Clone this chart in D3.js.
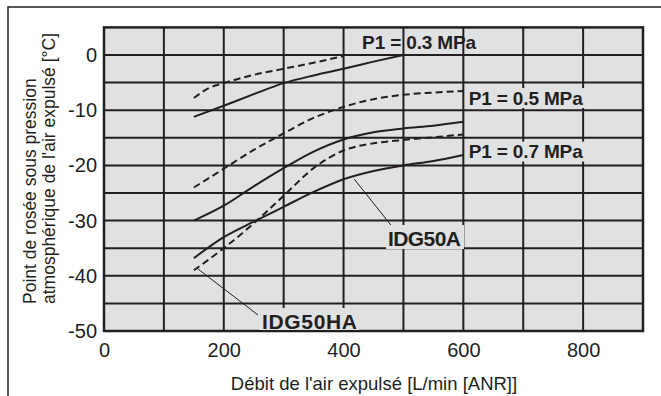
<!DOCTYPE html>
<html>
<head>
<meta charset="utf-8">
<script src="https://cdn.jsdelivr.net/npm/d3@7"></script>
<style>
  body { margin: 0; background: #fff; }
  text { font-family: "Liberation Sans", Arial, sans-serif; fill: #231f20; }
</style>
</head>
<body>
<script>
// chart values
var xTicks = [0, 200, 400, 600, 800];
var yTicks = [0, -10, -20, -30, -40, -50];

var flow = [150, 200, 250, 300, 350, 400, 450, 500, 550, 600];

var p03Flow = [150, 200, 250, 300, 350, 400, 450, 500];
var p03Solid = [-11.2, -9.2, -7.1, -5.1, -3.7, -2.5, -1.2, 0];
var p03DashFlow = [150, 175, 200, 250, 300, 350, 400];
var p03Dash = [-7.8, -6.0, -5.1, -3.6, -2.5, -1.4, -0.2];

var p05Dash = [-24, -20.6, -17.2, -14.2, -11.4, -9.4, -8.0, -7.2, -6.8, -6.5];
var p05Solid = [-30, -27.3, -23.8, -20.5, -17.5, -15.3, -14, -13.3, -12.8, -12.1];

var p07Dash = [-39, -35, -30.5, -25.5, -20.5, -17.3, -16, -15.4, -14.9, -14.4];
var p07Solid = [-36.8, -33, -30.2, -27.5, -24.8, -22.5, -21, -20, -19.2, -18.1];

var pressureLabels = [
  {text: "P1 = 0.3 MPa", x: 431, y: 2.4, box: false},
  {text: "P1 = 0.5 MPa", x: 609, y: -7.8, box: true},
  {text: "P1 = 0.7 MPa", x: 609, y: -17.5, box: true}
];

var w = 661;
var h = 396;
var ink = "#231f20";
var paper = "#e0e1e2";

var x = d3.scaleLinear().domain([0, 900]).range([104, 643]);
var y = d3.scaleLinear().domain([-50, 5]).range([331, 27.4]);

var svg = d3.select("body")
  .append("svg")
  .attr("width", w)
  .attr("height", h);

// outer frame
svg.append("rect")
  .attr("x", 8).attr("y", 7)
  .attr("width", 700).attr("height", 420)
  .attr("fill", "none")
  .attr("stroke", ink)
  .attr("stroke-width", 1.5);

// plot background
svg.append("rect")
  .attr("x", x(0)).attr("y", y(5))
  .attr("width", x(900) - x(0)).attr("height", y(-50) - y(5))
  .attr("fill", paper);

// grid
svg.append("g").selectAll("line")
  .data(d3.range(100, 900, 100))
  .enter().append("line")
  .attr("x1", function(d){ return x(d); })
  .attr("x2", function(d){ return x(d); })
  .attr("y1", y(5)).attr("y2", y(-50))
  .attr("stroke", ink).attr("stroke-width", 2);

svg.append("g").selectAll("line")
  .data(d3.range(-45, 5, 5))
  .enter().append("line")
  .attr("x1", x(0)).attr("x2", x(900))
  .attr("y1", function(d){ return y(d); })
  .attr("y2", function(d){ return y(d); })
  .attr("stroke", ink).attr("stroke-width", 2);

svg.append("rect")
  .attr("x", x(0)).attr("y", y(5))
  .attr("width", x(900) - x(0)).attr("height", y(-50) - y(5))
  .attr("fill", "none")
  .attr("stroke", ink).attr("stroke-width", 2.5);

// axes (labels only)
var plain = function(d){ return String(d); };
var xAxis = svg.append("g")
  .attr("transform", "translate(0," + y(-50) + ")")
  .call(d3.axisBottom(x).tickValues(xTicks).tickFormat(plain).tickSize(0).tickPadding(12));
var yAxis = svg.append("g")
  .attr("transform", "translate(" + x(0) + ",0)")
  .call(d3.axisLeft(y).tickValues(yTicks).tickFormat(plain).tickSize(0).tickPadding(7));
[xAxis, yAxis].forEach(function(a){
  a.select(".domain").remove();
  a.selectAll("text")
    .attr("font-size", 20)
    .attr("font-family", "Liberation Sans, Arial, sans-serif")
    .attr("fill", ink);
});

// curves
var line = d3.line()
  .x(function(d){ return x(d[0]); })
  .y(function(d){ return y(d[1]); })
  .curve(d3.curveMonotoneX);

var curves = [
  {xs: p03Flow, ys: p03Solid, dash: null},
  {xs: p03DashFlow, ys: p03Dash, dash: "7,4"},
  {xs: flow, ys: p05Dash, dash: "7,4"},
  {xs: flow, ys: p05Solid, dash: null},
  {xs: flow, ys: p07Dash, dash: "7,4"},
  {xs: flow, ys: p07Solid, dash: null}
];

svg.append("g").selectAll("path")
  .data(curves)
  .enter().append("path")
  .attr("d", function(c){ return line(d3.zip(c.xs, c.ys)); })
  .attr("fill", "none")
  .attr("stroke", ink)
  .attr("stroke-width", 2)
  .attr("stroke-dasharray", function(c){ return c.dash; });

// pressure labels, knocked out of the grid
var pl = svg.append("g").selectAll("g")
  .data(pressureLabels)
  .enter().append("g")
  .attr("transform", function(d){ return "translate(" + x(d.x) + "," + y(d.y) + ")"; });
pl.filter(function(d){ return d.box; }).append("rect")
  .attr("x", -1).attr("y", -10)
  .attr("width", 118).attr("height", 20)
  .attr("fill", paper);
pl.append("text")
  .attr("dy", "0.36em")
  .attr("font-size", 19)
  .attr("font-weight", "bold")
  .attr("textLength", 114)
  .text(function(d){ return d.text; });

// model callouts
svg.append("line")
  .attr("x1", x(418)).attr("y1", y(-22.5))
  .attr("x2", 394).attr("y2", 229)
  .attr("stroke", ink).attr("stroke-width", 1);
svg.append("rect")
  .attr("x", 386).attr("y", 225).attr("width", 78).attr("height", 24)
  .attr("fill", paper);
svg.append("text")
  .attr("x", 388).attr("y", 246)
  .attr("font-size", 21).attr("font-weight", "bold")
  .attr("textLength", 73)
  .text("IDG50A");

svg.append("line")
  .attr("x1", x(155)).attr("y1", y(-38.6))
  .attr("x2", 258).attr("y2", 315)
  .attr("stroke", ink).attr("stroke-width", 1);
svg.append("rect")
  .attr("x", 259).attr("y", 308).attr("width", 100).attr("height", 22)
  .attr("fill", paper);
svg.append("text")
  .attr("x", 262).attr("y", 329)
  .attr("font-size", 21).attr("font-weight", "bold")
  .attr("textLength", 95)
  .text("IDG50HA");

// axis titles
svg.append("text")
  .attr("x", 374).attr("y", 390)
  .attr("text-anchor", "middle")
  .attr("font-size", 18.5)
  .text("Débit de l'air expulsé [L/min [ANR]]");

var yt = svg.append("text")
  .attr("transform", "translate(36,304) rotate(-90)")
  .attr("font-size", 17.5);
yt.append("tspan").attr("x", 0).attr("dy", 0).text("Point de rosée sous pression");
yt.append("tspan").attr("x", 0).attr("dy", 19).text("atmosphérique de l'air expulsé [°C]");
</script>
</body>
</html>
